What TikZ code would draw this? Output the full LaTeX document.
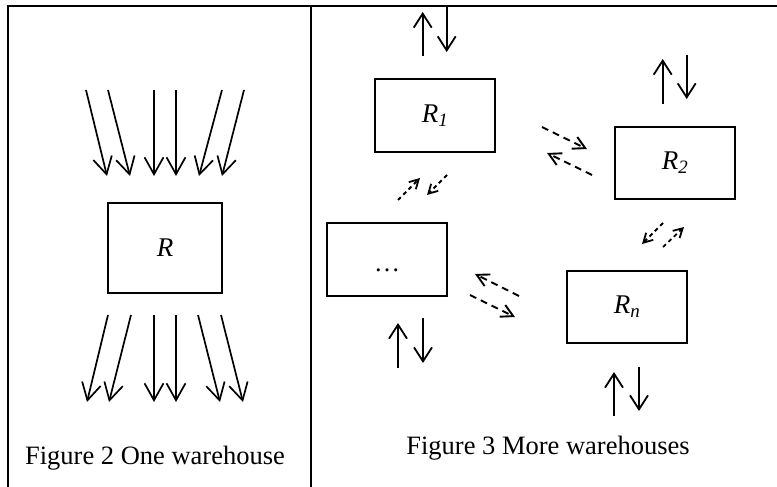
\documentclass[tikz,border=0pt]{standalone}
\usepackage{fontspec}
\setmainfont{Liberation Serif}
\usetikzlibrary{arrows.meta}
\begin{document}
\begin{tikzpicture}[x=1pt,y=-1pt,
  frame/.style={line width=2.2pt},
  wbox/.style={draw, line width=1.8pt, inner sep=0pt, minimum width=#1, minimum height=73pt,
    font=\fontsize{27}{30}\selectfont},
  flow/.style={line width=1.7pt, -{Straight Barb[length=17pt,width=19pt,line width=1.7pt]}},
  vflow/.style={line width=1.8pt, -{Straight Barb[length=14pt,width=18pt,line width=1.8pt]}},
  dflow/.style={line width=1.9pt, dash pattern=on 7pt off 5pt, -{Straight Barb[length=12pt,width=13pt,line width=1.9pt]}},
  sflow/.style={line width=1.8pt, dash pattern=on 4pt off 3.5pt, -{Straight Barb[length=9pt,width=10pt,line width=1.8pt]}},
  caption/.style={font=\fontsize{26.5}{30}\selectfont}
]
\useasboundingbox (0,0) rectangle (777,487);
% frame
\coordinate (tl) at (8,6); \coordinate (tr) at (777,6);
\coordinate (bl) at (8,487); \coordinate (dt) at (311,6); \coordinate (db) at (311,487);
\draw[frame] (bl) -- (tl) -- (tr);
\draw[frame] (dt) -- (db);

% ---- Figure 2 ----
\node[wbox=114pt, minimum height=90pt] (R) at (165,248) {\textit{R}};
\foreach \i/\xs/\xe in {1/86/107, 2/108/130, 3/154/154, 4/176/176, 5/222/199, 6/244/222}{
  \coordinate (ia\i) at (\xs,90); \coordinate (ib\i) at (\xe,176);
  \draw[flow] (ia\i) -- (ib\i);
}
\foreach \i/\xs/\xe in {1/108/87, 2/131/109, 3/154/154, 4/176/176, 5/198/220, 6/221/243}{
  \coordinate (oa\i) at (\xs,315); \coordinate (ob\i) at (\xe,402);
  \draw[flow] (oa\i) -- (ob\i);
}
\node[caption] (cap2) at (155,458) {Figure 2 One warehouse};

% ---- Figure 3 ----
\node[wbox=120pt] (R1) at (435,115.5) {\textit{R}\textsubscript{\textit{1}}};
\node[wbox=120pt, minimum height=72pt] (R2) at (675,163) {\textit{R}\textsubscript{\textit{2}}};
\node[wbox=120pt] (Rd) at (387,259.5) {};
\node[font=\fontsize{26}{30}\selectfont] (dots) at (387,270) {\dots};
\node[wbox=120pt, minimum height=72pt] (Rn) at (627,307) {\textit{R}\textsubscript{\textit{n}}};

% external flows
\coordinate (a1s) at (422.7,56); \coordinate (a1e) at (422.7,12);
\coordinate (b1s) at (446.7,6);  \coordinate (b1e) at (446.7,52);
\draw[vflow] (a1s) -- (a1e); \draw[vflow] (b1s) -- (b1e);
\coordinate (a2s) at (662.7,104); \coordinate (a2e) at (662.7,59);
\coordinate (b2s) at (686.7,55);  \coordinate (b2e) at (686.7,99);
\draw[vflow] (a2s) -- (a2e); \draw[vflow] (b2s) -- (b2e);
\coordinate (a3s) at (398,368); \coordinate (a3e) at (398,323);
\coordinate (b3s) at (423,318); \coordinate (b3e) at (423,363);
\draw[vflow] (a3s) -- (a3e); \draw[vflow] (b3s) -- (b3e);
\coordinate (a4s) at (614,416); \coordinate (a4e) at (614,372);
\coordinate (b4s) at (639,367); \coordinate (b4e) at (639,411);
\draw[vflow] (a4s) -- (a4e); \draw[vflow] (b4s) -- (b4e);

% transfers
\coordinate (t1s) at (542,127); \coordinate (t1e) at (587,149);
\coordinate (t2s) at (592,175); \coordinate (t2e) at (547,153);
\draw[dflow] (t1s) -- (t1e); \draw[dflow] (t2s) -- (t2e);
\coordinate (t3s) at (519,296); \coordinate (t3e) at (475,274);
\coordinate (t4s) at (470,295); \coordinate (t4e) at (515,317);
\draw[dflow] (t3s) -- (t3e); \draw[dflow] (t4s) -- (t4e);
\coordinate (t5s) at (398,200); \coordinate (t5e) at (420,178);
\coordinate (t6s) at (447,175); \coordinate (t6e) at (427,195);
\draw[sflow] (t5s) -- (t5e); \draw[sflow] (t6s) -- (t6e);
\coordinate (t7s) at (663,223); \coordinate (t7e) at (642,244);
\coordinate (t8s) at (663,247); \coordinate (t8e) at (684,227);
\draw[sflow] (t7s) -- (t7e); \draw[sflow] (t8s) -- (t8e);

\node[caption] (cap3) at (548,448) {Figure 3 More warehouses};
\end{tikzpicture}
\end{document}
